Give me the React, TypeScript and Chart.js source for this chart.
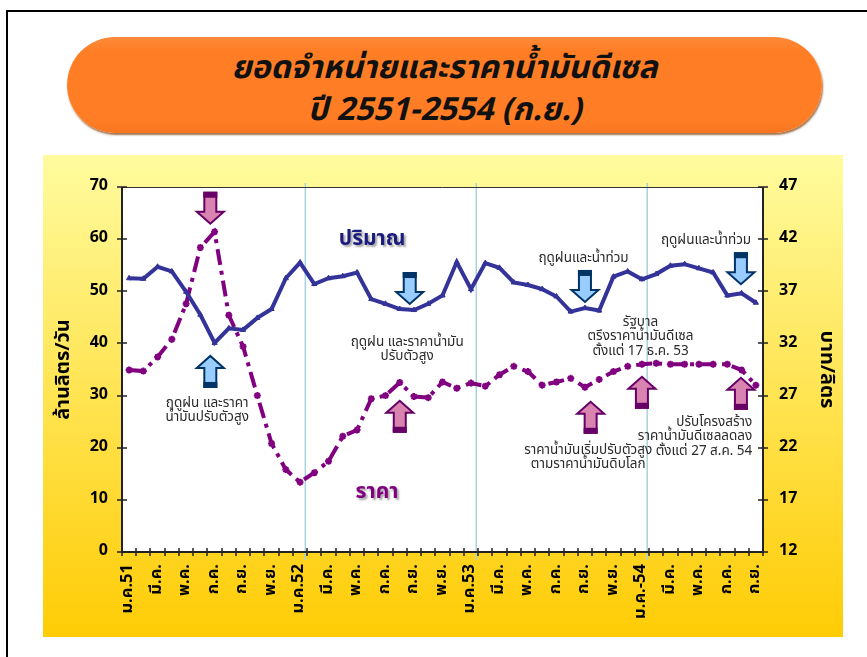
import React, { useEffect, useRef } from 'react';
import { Chart, registerables } from 'chart.js';
Chart.register(...registerables);

const monthLabels = [
  'ม.ค.51', '', 'มี.ค.', '', 'พ.ค.', '', 'ก.ค.', '', 'ก.ย.', '', 'พ.ย.', '',
  'ม.ค.52', '', 'มี.ค.', '', 'พ.ค.', '', 'ก.ค.', '', 'ก.ย.', '', 'พ.ย.', '',
  'ม.ค.53', '', 'มี.ค.', '', 'พ.ค.', '', 'ก.ค.', '', 'ก.ย.', '', 'พ.ย.', '',
  'ม.ค.-54', '', 'มี.ค.', '', 'พ.ค.', '', 'ก.ค.', '', 'ก.ย.',
];

// ปริมาณ (ล้านลิตร/วัน)
const volume = [
  52.5, 52.4, 54.7, 53.8, 49.9, 45.5, 40.1, 42.9, 42.6, 44.9, 46.6, 52.5,
  55.5, 51.4, 52.5, 52.9, 53.6, 48.5, 47.6, 46.6, 46.4, 47.6, 49.2, 55.6,
  50.4, 55.4, 54.5, 51.7, 51.2, 50.4, 49.0, 46.1, 46.8, 46.3, 52.8, 53.8,
  52.3, 53.3, 54.9, 55.2, 54.4, 53.6, 49.2, 49.6, 47.8,
];

// ราคา (บาท/ลิตร)
const price = [
  29.45, 29.35, 30.7, 32.4, 35.8, 41.2, 42.7, 34.7, 31.7, 27.0, 22.4, 19.9,
  18.7, 19.6, 20.7, 23.1, 23.7, 26.7, 27.0, 28.25, 26.9, 26.8, 28.3, 27.7,
  28.2, 27.9, 29.0, 29.8, 29.3, 28.0, 28.3, 28.65, 27.8, 28.55, 29.3, 29.8,
  30.0, 30.1, 30.0, 30.0, 30.0, 30.0, 30.0, 29.45, 28.0,
];

const leftRange = { min: 0, max: 70, step: 10 };
const rightRange = { min: 12, max: 47, step: 5 };
const separatorMonths = [12, 24, 36];

const titleLines = ['ยอดจำหน่ายและราคาน้ำมันดีเซล', 'ปี 2551-2554 (ก.ย.)'];
const leftTitle = 'ล้านลิตร/วัน';
const rightTitle = 'บาท/ลิตร';

// arrows: month position, top value on left axis, direction, colour kind
const arrowMonths = [5.7, 5.7, 19.7, 19.0, 32.0, 32.4, 36.0, 42.95, 42.95];
const arrowTops = [68.9, 37.6, 53.5, 29.0, 53.9, 28.8, 33.6, 33.4, 57.3];
const arrowDirs = ['down', 'up', 'down', 'up', 'down', 'up', 'up', 'up', 'down'];
const arrowKinds = ['pink', 'blue', 'blue', 'pink', 'blue', 'pink', 'pink', 'pink', 'blue'];

// notes: month position, first-line value on left axis, alignment, lines
const noteMonths = [5.48, 19.52, 31.9, 35.9, 40.5, 32.23, 43.75];
const noteValues = [28.4, 40.1, 56.2, 43.9, 59.6, 19.4, 24.7];
const noteAligns = ['center', 'center', 'center', 'center', 'center', 'center', 'right'];
const noteTexts = [
  ['ฤดูฝน และราคา', 'น้ำมันปรับตัวสูง'],
  ['ฤดูฝน และราคาน้ำมัน', 'ปรับตัวสูง'],
  ['ฤดูฝนและน้ำท่วม'],
  ['รัฐบาล', 'ตรึงราคาน้ำมันดีเซล', 'ตั้งแต่ 17 ธ.ค. 53'],
  ['ฤดูฝนและน้ำท่วม'],
  ['ราคาน้ำมันเริ่มปรับตัวสูง', 'ตามราคาน้ำมันดิบโลก'],
  ['ปรับโครงสร้าง', 'ราคาน้ำมันดีเซลลดลง', 'ตั้งแต่ 27 ส.ค. 54'],
];

const seriesNames = ['ปริมาณ', 'ราคา'];
const seriesNameMonths = [17.06, 17.4];
const seriesNameValues = [59.6, 11.1];

const FONT = "Tahoma, 'Noto Sans Thai', 'DejaVu Sans', 'Noto Sans', sans-serif";
const BLUE = '#333399';
const PURPLE = '#800080';

function drawArrow(ctx: CanvasRenderingContext2D, cx: number, top: number, dir: string, kind: string) {
  const W = 27, H = 31, sw = 12, cap = 6, head = 12;
  const fill = kind === 'pink' ? '#D883B0' : '#99CCFF';
  const dark = kind === 'pink' ? '#660066' : '#003366';
  ctx.save();
  ctx.lineWidth = 2;
  ctx.strokeStyle = dark;
  ctx.fillStyle = fill;
  ctx.lineJoin = 'miter';
  ctx.beginPath();
  if (dir === 'down') {
    ctx.moveTo(cx - sw / 2, top);
    ctx.lineTo(cx + sw / 2, top);
    ctx.lineTo(cx + sw / 2, top + H - head);
    ctx.lineTo(cx + W / 2, top + H - head);
    ctx.lineTo(cx, top + H);
    ctx.lineTo(cx - W / 2, top + H - head);
    ctx.lineTo(cx - sw / 2, top + H - head);
  } else {
    ctx.moveTo(cx - sw / 2, top + H);
    ctx.lineTo(cx + sw / 2, top + H);
    ctx.lineTo(cx + sw / 2, top + head);
    ctx.lineTo(cx + W / 2, top + head);
    ctx.lineTo(cx, top);
    ctx.lineTo(cx - W / 2, top + head);
    ctx.lineTo(cx - sw / 2, top + head);
  }
  ctx.closePath();
  ctx.fill();
  ctx.stroke();
  ctx.fillStyle = dark;
  if (dir === 'down') ctx.fillRect(cx - sw / 2 - 1, top - 1, sw + 2, cap);
  else ctx.fillRect(cx - sw / 2 - 1, top + H - cap + 1, sw + 2, cap);
  ctx.restore();
}

const decorPlugin = {
  id: 'decor',
  beforeDraw(chart: any) {
    const { ctx, width, height, chartArea } = chart;
    const g = ctx.createLinearGradient(0, 0, 0, height);
    g.addColorStop(0, '#FFFB9E');
    g.addColorStop(1, '#FFCC05');
    ctx.save();
    ctx.fillStyle = g;
    ctx.fillRect(0, 0, width, height);
    ctx.fillStyle = '#FFFFFF';
    ctx.fillRect(chartArea.left, chartArea.top, chartArea.right - chartArea.left, chartArea.bottom - chartArea.top);
    const xs = chart.scales.x;
    ctx.strokeStyle = '#A6D4DE';
    ctx.lineWidth = 1.5;
    separatorMonths.forEach((m) => {
      const x = xs.getPixelForValue(m + 0.37);
      ctx.beginPath();
      ctx.moveTo(x, chartArea.top - 4);
      ctx.lineTo(x, chartArea.bottom + 8);
      ctx.stroke();
    });
    ctx.strokeStyle = '#333333';
    ctx.lineWidth = 1;
    ctx.beginPath();
    ctx.moveTo(chartArea.left, chartArea.top + 0.5);
    ctx.lineTo(chartArea.right, chartArea.top + 0.5);
    ctx.stroke();
    ctx.strokeStyle = '#222222';
    ctx.lineWidth = 2;
    ctx.beginPath();
    ctx.moveTo(chartArea.left, chartArea.top);
    ctx.lineTo(chartArea.left, chartArea.bottom);
    ctx.lineTo(chartArea.right, chartArea.bottom);
    ctx.lineTo(chartArea.right, chartArea.top);
    ctx.stroke();
    ctx.lineWidth = 1.5;
    const yl = chart.scales.y;
    const yr = chart.scales.y1;
    ctx.beginPath();
    for (let v = leftRange.min; v <= leftRange.max; v += leftRange.step) {
      const y = Math.round(yl.getPixelForValue(v));
      ctx.moveTo(chartArea.left - 5, y);
      ctx.lineTo(chartArea.left + 5, y);
    }
    for (let v = rightRange.min; v <= rightRange.max; v += rightRange.step) {
      const y = Math.round(yr.getPixelForValue(v));
      ctx.moveTo(chartArea.right - 5, y);
      ctx.lineTo(chartArea.right + 5, y);
    }
    for (let i = 0; i <= monthLabels.length; i++) {
      const x = Math.round(xs.getPixelForValue(i - 0.5));
      ctx.moveTo(x, chartArea.bottom - 4);
      ctx.lineTo(x, chartArea.bottom + 4);
    }
    ctx.stroke();
    ctx.restore();
  },
  afterDraw(chart: any) {
    const { ctx } = chart;
    const xs = chart.scales.x;
    const yl = chart.scales.y;
    ctx.save();
    arrowMonths.forEach((m, i) => {
      drawArrow(ctx, xs.getPixelForValue(m), yl.getPixelForValue(arrowTops[i]), arrowDirs[i], arrowKinds[i]);
    });
    ctx.fillStyle = '#2A2A2A';
    ctx.font = `13.5px ${FONT}`;
    ctx.textBaseline = 'middle';
    noteMonths.forEach((m, i) => {
      const x = xs.getPixelForValue(m);
      const y0 = yl.getPixelForValue(noteValues[i]);
      ctx.textAlign = noteAligns[i] as CanvasTextAlign;
      noteTexts[i].forEach((line, k) => ctx.fillText(line, x, y0 + k * 14.5));
    });
    ctx.font = `bold 21px ${FONT}`;
    ctx.textAlign = 'center';
    ctx.shadowColor = 'rgba(60,60,60,0.45)';
    ctx.shadowOffsetX = 2;
    ctx.shadowOffsetY = 2;
    ctx.shadowBlur = 2;
    seriesNames.forEach((n, i) => {
      ctx.fillStyle = i === 0 ? '#1C1C7E' : PURPLE;
      ctx.fillText(n, xs.getPixelForValue(seriesNameMonths[i]), yl.getPixelForValue(seriesNameValues[i]));
    });
    ctx.restore();
  },
};

function DieselChart() {
  const ref = useRef<HTMLCanvasElement | null>(null);
  useEffect(() => {
    if (!ref.current) return;
    const chart = new Chart(ref.current, {
      type: 'line',
      data: {
        labels: monthLabels,
        datasets: [
          {
            label: seriesNames[0],
            data: volume,
            yAxisID: 'y',
            borderColor: BLUE,
            backgroundColor: BLUE,
            borderWidth: 4,
            pointStyle: 'triangle',
            pointRadius: 3,
            pointBorderWidth: 1,
            tension: 0,
          },
          {
            label: seriesNames[1],
            data: price,
            yAxisID: 'y1',
            borderColor: PURPLE,
            backgroundColor: PURPLE,
            borderWidth: 4,
            borderDash: [16, 6, 4, 6],
            pointStyle: 'star',
            pointRadius: 3.5,
            pointBorderWidth: 2,
            tension: 0,
          },
        ],
      },
      options: {
        responsive: false,
        animation: false,
        layout: { padding: { top: 32, left: 0, right: 0, bottom: 0 } },
        plugins: { legend: { display: false }, tooltip: { enabled: false }, title: { display: false } },
        scales: {
          x: {
            type: 'category',
            offset: true,
            grid: { display: false, drawTicks: false },
            border: { display: false },
            ticks: {
              autoSkip: false,
              maxRotation: 90,
              minRotation: 90,
              padding: 12,
              color: '#000',
              font: { family: FONT, size: 16.5, weight: 'bold' },
            },
            afterFit: (s: any) => { s.height = 85; },
          },
          y: {
            position: 'left',
            min: leftRange.min,
            max: leftRange.max,
            grid: { display: false, drawTicks: false },
            border: { display: false },
            ticks: {
              stepSize: leftRange.step,
              padding: 14,
              color: '#000',
              font: { family: FONT, size: 16, weight: 'bold' },
            },
            title: {
              display: true,
              text: leftTitle,
              color: '#000',
              padding: { top: 10, bottom: 0 },
              font: { family: FONT, size: 20, weight: 'bold' },
            },
            afterFit: (s: any) => { s.width = 79; },
          },
          y1: {
            position: 'right',
            min: rightRange.min,
            max: rightRange.max,
            grid: { display: false, drawTicks: false },
            border: { display: false },
            ticks: {
              stepSize: rightRange.step,
              padding: 16,
              color: '#000',
              font: { family: FONT, size: 16, weight: 'bold' },
            },
            title: {
              display: true,
              text: rightTitle,
              color: '#000',
              padding: { top: 6, bottom: 0 },
              font: { family: FONT, size: 20, weight: 'bold' },
            },
            afterFit: (s: any) => { s.width = 80; },
          },
        },
      },
      plugins: [decorPlugin],
    });
    return () => chart.destroy();
  }, []);
  return <canvas ref={ref} width={800} height={482} style={{ display: 'block' }} />;
}

export default function App() {
  return (
    <div style={{ position: 'fixed', left: 0, top: 0, width: 867, height: 657, overflow: 'hidden', background: '#fff' }}>
      <div style={{ position: 'absolute', left: 6, top: 10, width: 1000, height: 1000, border: '2px solid #000' }} />
      <div
        style={{
          position: 'absolute', left: 67, top: 37, width: 755, height: 96, borderRadius: 48,
          background: 'linear-gradient(#FF8A3A, #FF7D24 15%, #FF7D24 88%, #F57520)',
          boxShadow: '1px 2px 2px rgba(120,55,0,0.7)',
          display: 'flex', flexDirection: 'column', alignItems: 'center', justifyContent: 'center',
          paddingTop: 8, boxSizing: 'border-box',
        }}
      >
        {titleLines.map((t, i) => (
          <div key={i} style={{ font: `italic bold 32px ${FONT}`, lineHeight: '42px', color: '#111' }}>{t}</div>
        ))}
      </div>
      <div style={{ position: 'absolute', left: 43, top: 155, width: 800, height: 482 }}>
        <DieselChart />
      </div>
    </div>
  );
}
